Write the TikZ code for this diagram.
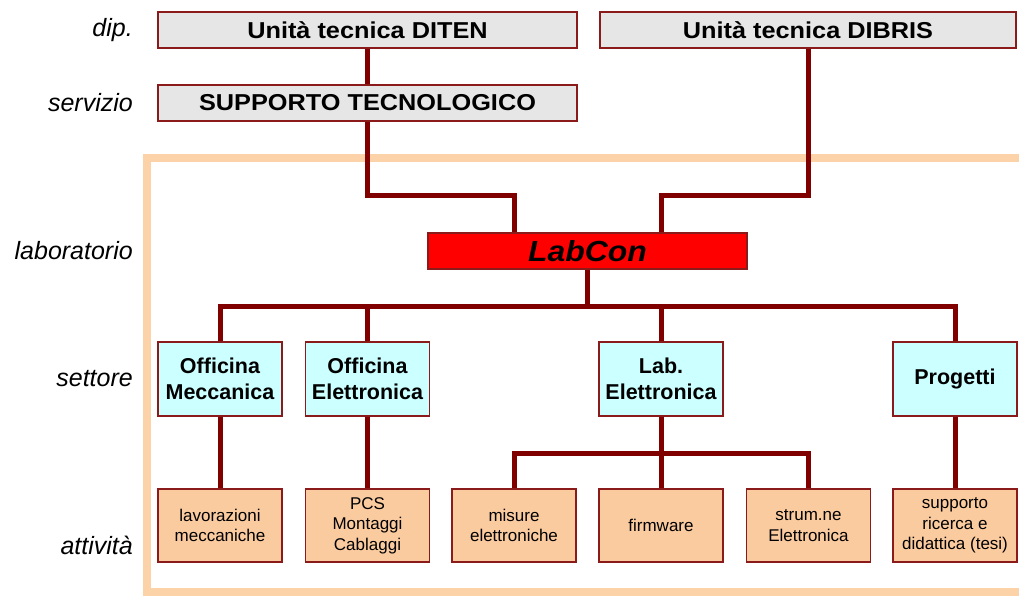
\documentclass[tikz,border=0pt]{standalone}
\usepackage{fontspec}
\setmainfont{Liberation Sans}
\usepackage{graphicx}
\definecolor{conn}{HTML}{800000}
\definecolor{bord}{HTML}{8B1A1A}
\definecolor{grayf}{HTML}{E6E6E6}
\definecolor{cyanf}{HTML}{CCFFFF}
\definecolor{actf}{HTML}{FBCBA0}
\definecolor{framec}{HTML}{FCD3A8}
\tikzset{
  connline/.style={draw=conn, line width=5pt},
  topbox/.style={draw=bord, line width=1.5pt, fill=grayf, minimum height=36pt, inner sep=0pt,
     font=\fontsize{23}{26}\selectfont\bfseries},
  labbox/.style={draw=bord, line width=1.2pt, fill=red, minimum width=319pt, minimum height=36pt, inner sep=0pt,
     font=\fontsize{29}{31}\selectfont\bfseries\itshape},
  setbox/.style={draw=bord, line width=1.5pt, fill=cyanf, minimum width=124pt, minimum height=74pt, inner sep=0pt,
     align=center, font=\fontsize{21.5}{26}\selectfont\bfseries},
  actbox/.style={draw=bord, line width=1.5pt, fill=actf, minimum width=124pt, minimum height=73pt, inner sep=0pt,
     align=center, font=\fontsize{17}{20.5}\selectfont},
  levlabel/.style={anchor=east, inner sep=0pt, font=\fontsize{25}{28}\selectfont\itshape},
}
\newcommand{\wide}[1]{\scalebox{1.1}[1]{#1}}
\begin{document}
\begin{tikzpicture}[x=1pt, y=-1pt]
\useasboundingbox (0,0) rectangle (1019,596);
% frame
\draw[framec, line width=8pt] (1040,158) -- (147,158) -- (147,592) -- (1040,592);
% level labels
\node[levlabel] (ldip) at (133,30) {dip.};
\node[levlabel] (lser) at (133,103) {servizio};
\node[levlabel] (llab) at (133,251) {laboratorio};
\node[levlabel] (lset) at (133,379) {settore};
\node[levlabel] (latt) at (133,545) {attività};
\coordinate (la) at (514,195);
\coordinate (ra) at (661,195);
\coordinate (bus) at (587.5,306);
\coordinate (sub) at (661,453);
% boxes
\node[topbox, minimum width=419pt] (diten) at (367.5,30) {\wide{Unità tecnica DITEN}};
\node[topbox, minimum width=416pt] (dibris) at (808,30) {\wide{Unità tecnica DIBRIS}};
\node[topbox, minimum width=419pt] (supp) at (367.5,103) {\wide{SUPPORTO TECNOLOGICO}};
\node[labbox] (labcon) at (587.5,251) {\wide{LabCon}};
\node[setbox] (mecc) at (220,379) {Officina\\Meccanica};
\node[setbox] (elet) at (367.5,379) {Officina\\Elettronica};
\node[setbox] (labe) at (661,379) {Lab.\\Elettronica};
\node[setbox] (prog) at (955,379) {Progetti};
\node[actbox] (lav) at (220,525.5) {lavorazioni\\meccaniche};
\node[actbox] (pcs) at (367.5,525.5) {PCS\\Montaggi\\Cablaggi};
\node[actbox] (mis) at (514,525.5) {misure\\elettroniche};
\node[actbox] (fw) at (661,525.5) {firmware};
\node[actbox] (str) at (808.5,525.5) {strum.ne\\Elettronica};
\node[actbox] (sup) at (955,525.5) {supporto\\ricerca e\\didattica (tesi)};
% connectors
\draw[connline] (diten.south) -- (supp.north);
\draw[connline] (supp.south) |- (la) -- (la |- labcon.north);
\draw[connline] (dibris.south) |- (ra) -- (ra |- labcon.north);
\draw[connline] (labcon.south) -- (bus);
\draw[connline] (mecc.north) |- (bus);
\draw[connline] (prog.north) |- (bus);
\draw[connline] (elet.north) -- (elet.north |- bus);
\draw[connline] (labe.north) -- (labe.north |- bus);
\draw[connline] (mecc.south) -- (lav.north);
\draw[connline] (elet.south) -- (pcs.north);
\draw[connline] (prog.south) -- (sup.north);
\draw[connline] (labe.south) -- (fw.north);
\draw[connline] (mis.north) |- (sub);
\draw[connline] (str.north) |- (sub);
\end{tikzpicture}
\end{document}
